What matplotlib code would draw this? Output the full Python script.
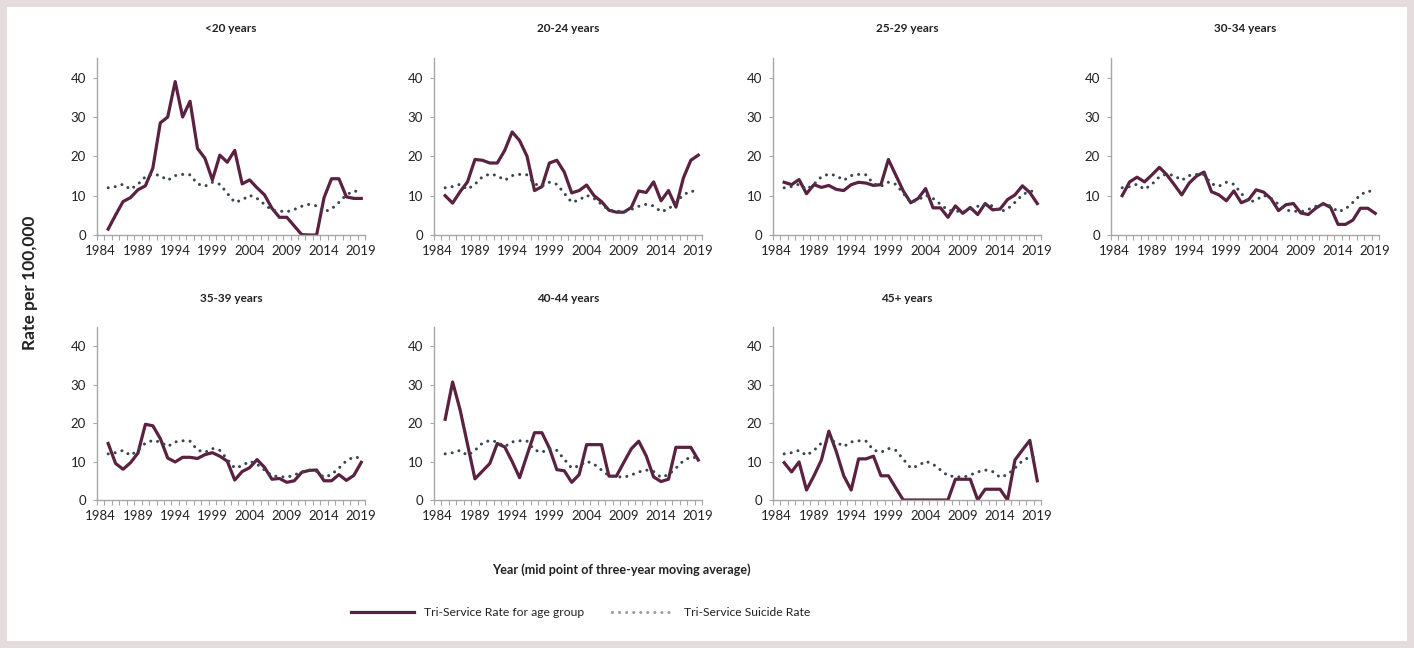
import numpy as np
import matplotlib.pyplot as plt
from matplotlib.lines import Line2D
from matplotlib.patches import Rectangle

plt.rcParams['font.family'] = ['Lato', 'DejaVu Sans']

years = list(range(1985, 2020))

# tri-service suicide rate (same dotted line in every panel)
suicide_rate = [12.0, 12.3, 12.9, 11.6, 12.9, 14.8, 15.5, 15.1, 13.9, 15.1,
                15.4, 15.3, 13.0, 12.4, 13.4, 12.9, 10.6, 8.3, 8.9, 10.1,
                9.3, 7.8, 6.3, 6.1, 5.9, 6.5, 7.3, 7.8, 7.4, 5.9,
                6.6, 8.3, 10.2, 11.2, 10.9]

rate_lt20 = [1.5, 5.1, 8.5, 9.5, 11.5, 12.5, 17.0, 28.5, 30.0, 39.0,
             30.0, 34.0, 22.0, 19.5, 14.0, 20.3, 18.5, 21.5, 13.0, 14.0,
             12.0, 10.2, 6.8, 4.5, 4.5, 2.3, 0.1, 0.0, 0.0, 9.5,
             14.3, 14.3, 9.7, 9.3, 9.3]
rate_20_24 = [10.0, 8.1, 11.0, 13.5, 19.2, 19.0, 18.3, 18.3, 21.5, 26.2,
              24.0, 20.0, 11.3, 12.3, 18.3, 19.0, 16.0, 10.7, 11.3, 12.7,
              10.0, 8.5, 6.3, 5.8, 5.8, 7.0, 11.2, 10.8, 13.5, 8.7,
              11.3, 7.1, 14.5, 19.0, 20.3]
rate_25_29 = [13.4, 12.8, 14.1, 10.5, 12.8, 12.1, 12.6, 11.6, 11.3, 12.8,
              13.4, 13.2, 12.6, 12.8, 19.2, 15.2, 11.2, 8.2, 9.3, 11.8,
              6.9, 6.9, 4.5, 7.4, 5.5, 7.0, 5.2, 8.0, 6.4, 6.6,
              9.0, 10.2, 12.5, 10.8, 8.0]
rate_30_34 = [10.0, 13.5, 14.7, 13.5, 15.3, 17.2, 15.3, 12.8, 10.2, 13.2,
              15.0, 16.0, 11.0, 10.2, 8.7, 11.2, 8.2, 9.0, 11.5, 10.9,
              9.2, 6.2, 7.7, 8.0, 5.6, 5.2, 6.8, 8.0, 7.0, 2.7,
              2.7, 3.8, 6.8, 6.8, 5.5]
rate_35_39 = [14.7, 9.5, 8.0, 9.7, 12.2, 19.7, 19.3, 16.0, 10.9, 9.9,
              11.1, 11.1, 10.8, 11.8, 12.3, 11.4, 10.1, 5.2, 7.4, 8.4,
              10.5, 8.5, 5.4, 5.6, 4.6, 5.0, 7.2, 7.7, 7.8, 5.0,
              5.0, 6.6, 5.1, 6.4, 9.8]
rate_40_44 = [21.0, 30.7, 23.5, 14.5, 5.5, 7.5, 9.5, 14.7, 13.8, 10.0,
              5.8, 11.7, 17.5, 17.5, 13.5, 7.9, 7.6, 4.6, 6.6, 14.4,
              14.4, 14.4, 6.2, 6.2, 9.8, 13.3, 15.3, 11.5, 6.0, 4.8,
              5.4, 13.7, 13.7, 13.7, 10.4]
rate_45_plus = [9.7, 7.3, 9.9, 2.6, 6.3, 10.4, 17.9, 12.6, 6.3, 2.6,
                10.7, 10.7, 11.4, 6.3, 6.3, 3.1, 0.0, 0.0, 0.0, 0.0,
                0.0, 0.0, 0.0, 5.4, 5.4, 5.4, 0.0, 2.8, 2.8, 2.8,
                0.0, 10.4, 13.0, 15.5, 5.0]

age_groups = ['<20 years', '20-24 years', '25-29 years', '30-34 years',
              '35-39 years', '40-44 years', '45+ years']
group_rates = [rate_lt20, rate_20_24, rate_25_29, rate_30_34,
               rate_35_39, rate_40_44, rate_45_plus]
year_labels = [1984, 1989, 1994, 1999, 2004, 2009, 2014, 2019]

maroon = '#5a2140'
dotcol = '#3a4651'
axcol = '#a6a6a6'
txtcol = '#222222'

W, H = 1414, 648
fig = plt.figure(figsize=(W / 100, H / 100), dpi=100, facecolor='#e4dcdd')
fig.patches.append(Rectangle((7 / W, 7 / H), 1400 / W, 634 / H, transform=fig.transFigure,
                             facecolor='white', edgecolor='none', zorder=-10))

lefts = [97, 434, 773, 1111]
rows = [(58, 235), (327, 500)]
dots = (0, (0.01, 2.3))

for i, (name, rate) in enumerate(zip(age_groups, group_rates)):
    top, bot = rows[i // 4]
    left = lefts[i % 4]
    ax = fig.add_axes([left / W, 1 - bot / H, 268 / W, (bot - top) / H])
    ax.set_facecolor('none')
    ax.plot(years, rate, color=maroon, lw=2.3, solid_joinstyle='round')
    ax.plot(years, suicide_rate, color=dotcol, lw=2.2, linestyle=dots, dash_capstyle='round')

    ax.set_xlim(1983.5, 2019.5)
    ax.set_ylim(0, 45)
    ax.set_yticks([0, 10, 20, 30, 40])
    ax.set_xticks(year_labels)
    ax.set_xticks(np.arange(1983.5, 2020, 1), minor=True)
    ax.tick_params(axis='x', which='major', length=0, pad=7, labelsize=9.5, labelcolor=txtcol)
    ax.tick_params(axis='x', which='minor', length=3.5, width=0.8, color=axcol)
    ax.tick_params(axis='y', length=3, width=0.8, color=axcol, pad=5, labelsize=9.5, labelcolor=txtcol)
    for s in ['top', 'right']:
        ax.spines[s].set_visible(False)
    for s in ['left', 'bottom']:
        ax.spines[s].set_color(axcol)
        ax.spines[s].set_linewidth(1)
    ax.text(0.5, 1 + 29 / (bot - top), name, transform=ax.transAxes, ha='center', va='center',
            fontsize=8.5, fontweight='bold', color=txtcol)

fig.text(30 / W, 1 - 283 / H, 'Rate per 100,000', rotation=90, ha='center', va='center',
         fontsize=12.5, fontweight='bold', color=txtcol)
fig.text(621 / W, 1 - 570 / H, 'Year (mid point of three-year moving average)', ha='center', va='center',
         fontsize=9.1, fontweight='bold', color=txtcol)

handles = [Line2D([], [], color=maroon, lw=2.3),
           Line2D([], [], color='#9a9a9a', lw=2.2, linestyle=dots, dash_capstyle='round')]
fig.legend(handles, ['Tri-Service Rate for age group', 'Tri-Service Suicide Rate'],
           loc='center', bbox_to_anchor=(581 / W, 1 - 613 / H), ncol=2, frameon=False,
           fontsize=8.7, handlelength=5.2, columnspacing=2.3, handletextpad=0.8, labelcolor=txtcol)

fig.savefig('out.png', dpi=100, facecolor=fig.get_facecolor())
